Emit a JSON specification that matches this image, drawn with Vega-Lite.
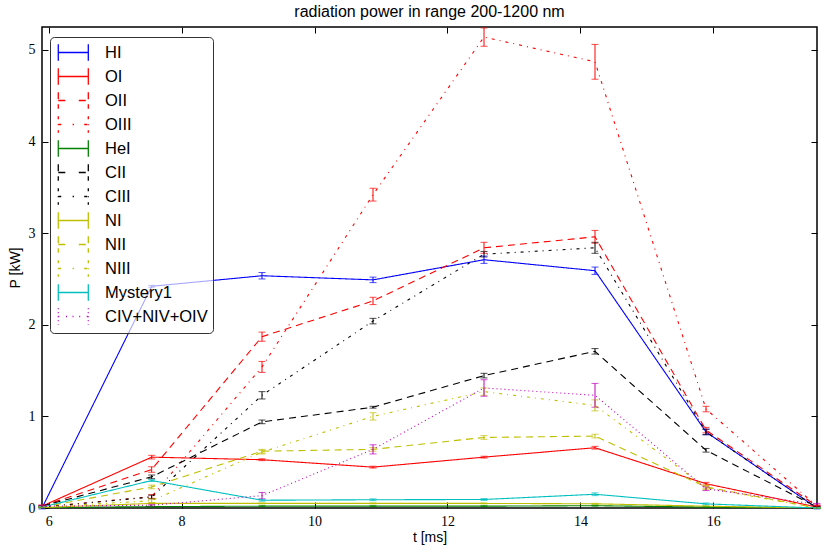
{
  "$schema": "https://vega.github.io/schema/vega-lite/v6.json",
  "width": 775,
  "height": 481,
  "autosize": "none",
  "padding": {"left": 42, "top": 27, "right": 9, "bottom": 44},
  "background": "white",
  "title": {"text": "radiation power in range 200-1200 nm", "font": "Liberation Sans", "fontSize": 16, "fontWeight": "normal", "color": "black", "offset": 7},
  "config": {
    "view": {"stroke": "black", "strokeWidth": 1.5},
    "axis": {"grid": false, "domain": false, "tickColor": "black", "tickSize": 6, "offset": -6, "tickWidth": 1, "labelFont": "Liberation Serif", "labelFontSize": 14, "labelColor": "black", "labelFlush": false, "titleFont": "Liberation Sans", "titleFontSize": 14, "titleFontWeight": "normal", "titleColor": "black"}
  },
  "data": {"values": [
    {"s":"HI","t":5.9,"P":0.0,"e":0.01},{"s":"HI","t":7.55,"P":2.42,"e":0.01},{"s":"HI","t":9.21,"P":2.535,"e":0.035},{"s":"HI","t":10.88,"P":2.49,"e":0.03},{"s":"HI","t":12.55,"P":2.71,"e":0.04},{"s":"HI","t":14.22,"P":2.59,"e":0.04},{"s":"HI","t":15.89,"P":0.83,"e":0.03},{"s":"HI","t":17.56,"P":0.0,"e":0.01},
    {"s":"OI","t":5.9,"P":0.02,"e":0.01},{"s":"OI","t":7.55,"P":0.555,"e":0.02},{"s":"OI","t":9.21,"P":0.527,"e":0.01},{"s":"OI","t":10.88,"P":0.446,"e":0.01},{"s":"OI","t":12.55,"P":0.555,"e":0.01},{"s":"OI","t":14.22,"P":0.658,"e":0.015},{"s":"OI","t":15.89,"P":0.265,"e":0.015},{"s":"OI","t":17.56,"P":0.01,"e":0.005},
    {"s":"OII","t":5.9,"P":0.02,"e":0.01},{"s":"OII","t":7.55,"P":0.42,"e":0.03},{"s":"OII","t":9.21,"P":1.87,"e":0.05},{"s":"OII","t":10.88,"P":2.26,"e":0.04},{"s":"OII","t":12.55,"P":2.84,"e":0.06},{"s":"OII","t":14.22,"P":2.96,"e":0.07},{"s":"OII","t":15.89,"P":0.85,"e":0.03},{"s":"OII","t":17.56,"P":0.02,"e":0.01},
    {"s":"OIII","t":5.9,"P":0.01,"e":0.005},{"s":"OIII","t":7.55,"P":0.125,"e":0.02},{"s":"OIII","t":9.21,"P":1.54,"e":0.06},{"s":"OIII","t":10.88,"P":3.42,"e":0.07},{"s":"OIII","t":12.55,"P":5.14,"e":0.1},{"s":"OIII","t":14.22,"P":4.87,"e":0.19},{"s":"OIII","t":15.89,"P":1.08,"e":0.03},{"s":"OIII","t":17.56,"P":0.02,"e":0.01},
    {"s":"HeI","t":5.9,"P":0.005,"e":0.003},{"s":"HeI","t":7.55,"P":0.015,"e":0.005},{"s":"HeI","t":9.21,"P":0.02,"e":0.005},{"s":"HeI","t":10.88,"P":0.02,"e":0.005},{"s":"HeI","t":12.55,"P":0.02,"e":0.005},{"s":"HeI","t":14.22,"P":0.025,"e":0.005},{"s":"HeI","t":15.89,"P":0.01,"e":0.003},{"s":"HeI","t":17.56,"P":0.0,"e":0.002},
    {"s":"CII","t":5.9,"P":0.02,"e":0.005},{"s":"CII","t":7.55,"P":0.34,"e":0.02},{"s":"CII","t":9.21,"P":0.94,"e":0.02},{"s":"CII","t":10.88,"P":1.1,"e":0.01},{"s":"CII","t":12.55,"P":1.445,"e":0.025},{"s":"CII","t":14.22,"P":1.71,"e":0.03},{"s":"CII","t":15.89,"P":0.63,"e":0.02},{"s":"CII","t":17.56,"P":0.01,"e":0.005},
    {"s":"CIII","t":5.9,"P":0.01,"e":0.005},{"s":"CIII","t":7.55,"P":0.12,"e":0.02},{"s":"CIII","t":9.21,"P":1.23,"e":0.04},{"s":"CIII","t":10.88,"P":2.04,"e":0.03},{"s":"CIII","t":12.55,"P":2.77,"e":0.03},{"s":"CIII","t":14.22,"P":2.84,"e":0.06},{"s":"CIII","t":15.89,"P":0.83,"e":0.03},{"s":"CIII","t":17.56,"P":0.0,"e":0.005},
    {"s":"NI","t":5.9,"P":0.005,"e":0.003},{"s":"NI","t":7.55,"P":0.05,"e":0.005},{"s":"NI","t":9.21,"P":0.05,"e":0.005},{"s":"NI","t":10.88,"P":0.05,"e":0.005},{"s":"NI","t":12.55,"P":0.05,"e":0.005},{"s":"NI","t":14.22,"P":0.046,"e":0.005},{"s":"NI","t":15.89,"P":0.02,"e":0.003},{"s":"NI","t":17.56,"P":0.0,"e":0.002},
    {"s":"NII","t":5.9,"P":0.01,"e":0.005},{"s":"NII","t":7.55,"P":0.23,"e":0.02},{"s":"NII","t":9.21,"P":0.62,"e":0.02},{"s":"NII","t":10.88,"P":0.64,"e":0.02},{"s":"NII","t":12.55,"P":0.77,"e":0.02},{"s":"NII","t":14.22,"P":0.785,"e":0.02},{"s":"NII","t":15.89,"P":0.23,"e":0.02},{"s":"NII","t":17.56,"P":0.0,"e":0.005},
    {"s":"NIII","t":5.9,"P":0.01,"e":0.005},{"s":"NIII","t":7.55,"P":0.08,"e":0.02},{"s":"NIII","t":9.21,"P":0.61,"e":0.02},{"s":"NIII","t":10.88,"P":1.0,"e":0.04},{"s":"NIII","t":12.55,"P":1.27,"e":0.04},{"s":"NIII","t":14.22,"P":1.12,"e":0.06},{"s":"NIII","t":15.89,"P":0.22,"e":0.02},{"s":"NIII","t":17.56,"P":0.0,"e":0.005},
    {"s":"Mystery1","t":5.9,"P":0.01,"e":0.005},{"s":"Mystery1","t":7.55,"P":0.3,"e":0.01},{"s":"Mystery1","t":9.21,"P":0.085,"e":0.01},{"s":"Mystery1","t":10.88,"P":0.09,"e":0.01},{"s":"Mystery1","t":12.55,"P":0.093,"e":0.01},{"s":"Mystery1","t":14.22,"P":0.15,"e":0.015},{"s":"Mystery1","t":15.89,"P":0.045,"e":0.01},{"s":"Mystery1","t":17.56,"P":0.0,"e":0.005},
    {"s":"CIV+NIV+OIV","t":5.9,"P":0.02,"e":0.01},{"s":"CIV+NIV+OIV","t":7.55,"P":0.03,"e":0.01},{"s":"CIV+NIV+OIV","t":9.21,"P":0.135,"e":0.035},{"s":"CIV+NIV+OIV","t":10.88,"P":0.64,"e":0.05},{"s":"CIV+NIV+OIV","t":12.55,"P":1.31,"e":0.09},{"s":"CIV+NIV+OIV","t":14.22,"P":1.23,"e":0.13},{"s":"CIV+NIV+OIV","t":15.89,"P":0.21,"e":0.02},{"s":"CIV+NIV+OIV","t":17.56,"P":0.04,"e":0.01}
  ]},
  "resolve": {"axis": {"x": "independent", "y": "independent"}},
  "layer": [
    {
      "mark": {"type": "line", "strokeWidth": 1.1, "clip": true},
      "encoding": {
        "x": {"field": "t", "type": "quantitative", "scale": {"domain": [5.9, 17.56], "nice": false, "zero": false}, "axis": {"orient": "bottom", "values": [6, 8, 10, 12, 14, 16], "title": "t [ms]", "titlePadding": 2, "labelPadding": 6}},
        "y": {"field": "P", "type": "quantitative", "scale": {"domain": [0, 5.25], "nice": false}, "axis": {"orient": "left", "values": [0, 1, 2, 3, 4, 5], "title": "P [kW]", "titlePadding": 6, "labelPadding": 7}},
        "color": {"field": "s", "type": "nominal",
          "scale": {"domain": ["HI","OI","OII","OIII","HeI","CII","CIII","NI","NII","NIII","Mystery1","CIV+NIV+OIV"],
                    "range": ["#0000ff","#ff0000","#ff0000","#ff0000","#008000","#000000","#000000","#bfbf00","#bfbf00","#bfbf00","#00bfbf","#bf00bf"]},
          "legend": {"title": null, "orient": "none", "legendX": 8, "legendY": 10, "fillColor": "rgba(255,255,255,0.65)", "strokeColor": "#333333", "cornerRadius": 4, "padding": 5,
            "labelFont": "Liberation Sans", "labelFontSize": 16.5, "labelColor": "black", "labelOffset": 29, "rowPadding": 1,
            "symbolSize": 361, "symbolStrokeWidth": 1.3, "symbolType": "M-0.76,-0.87V0.87M2.4,-0.87V0.87M-0.76,0H2.4",
            "encode": {"symbols": {"update": {
              "shape": {"signal": "indexof(['OII','CII','NII'], datum.value) >= 0 ? 'M-0.76,-0.87V0.87M2.4,-0.87V0.87M-0.76,0H0.08M1.4,0H2.4' : (indexof(['OIII','CIII','NIII'], datum.value) >= 0 ? 'M-0.76,-0.87V0.87M2.4,-0.87V0.87M-0.76,0H-0.33M0.75,0H0.89M1.97,0H2.4' : (datum.value === 'CIV+NIV+OIV' ? 'M-0.76,-0.87V0.87M2.4,-0.87V0.87M-0.76,0H-0.6M0.05,0H0.2M0.74,0H0.9M1.44,0H1.59M2.24,0H2.4' : 'M-0.76,-0.87V0.87M2.4,-0.87V0.87M-0.76,0H2.4'))"},
              "fill": {"value": "transparent"},
              "strokeDash": {"value": []},
              "strokeWidth": {"value": 1.3},
              "opacity": {"value": 1}
            }}}
          }},
        "strokeDash": {"field": "s", "type": "nominal", "legend": null,
          "scale": {"domain": ["HI","OI","OII","OIII","HeI","CII","CIII","NI","NII","NIII","Mystery1","CIV+NIV+OIV"],
                    "range": [[1,0],[1,0],[7,5],[3,5,1,5],[1,0],[7,5],[3,5,1,5],[1,0],[7,5],[3,5,1,5],[1,0],[1,3]]}}
      }
    },
    {
      "mark": {"type": "errorbar", "ticks": {"size": 7, "thickness": 1}, "rule": {"strokeWidth": 1}},
      "encoding": {
        "x": {"field": "t", "type": "quantitative", "axis": null},
        "y": {"field": "P", "type": "quantitative", "axis": null},
        "yError": {"field": "e"},
        "color": {"field": "s", "type": "nominal"}
      }
    },
    {
      "mark": {"type": "line", "strokeOpacity": 0},
      "encoding": {
        "x": {"field": "t", "type": "quantitative", "axis": {"orient": "top", "values": [6, 8, 10, 12, 14, 16], "labels": false, "title": null}},
        "y": {"field": "P", "type": "quantitative", "axis": {"orient": "right", "values": [0, 1, 2, 3, 4, 5], "labels": false, "title": null}},
        "detail": {"field": "s"}
      }
    }
  ]
}
